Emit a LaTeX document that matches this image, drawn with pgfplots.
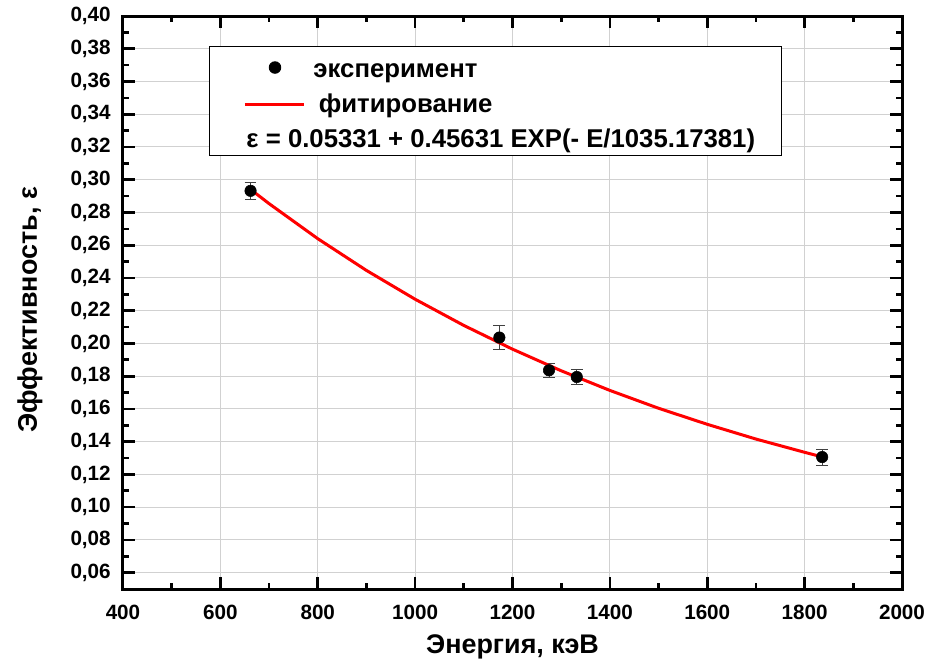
\documentclass[border=0pt]{standalone}
\usepackage{pgfplots}
\pgfplotsset{compat=1.18}
\usepackage{fontspec}
\setmainfont{Liberation Sans}
\pgfplotsset{
  marklegend/.style={legend image code/.code={\path (0pt,0pt) (50.25pt,0pt); \draw[mark repeat=2, mark phase=2, ##1] plot coordinates {(6pt,7.5pt) (28.5pt,7.5pt) (50.25pt,7.5pt)};}},
  linelegend/.style={legend image code/.code={\path (0pt,0pt) (50.25pt,0pt); \draw[##1] (6pt,6pt) -- (50.25pt,6pt);}},
}
\begin{document}
\begin{tikzpicture}
\path[use as bounding box] (-92.25pt,-54.75pt) rectangle (615pt,441.75pt);
\begin{axis}[
  at={(0pt,0pt)}, anchor=south west,
  scale only axis, width=584.25pt, height=429.75pt,
  xmin=400, xmax=2000, ymin=0.05, ymax=0.40,
  xtick={400,600,800,1000,1200,1400,1600,1800,2000},
  ytick={0.06,0.08,0.10,0.12,0.14,0.16,0.18,0.20,0.22,0.24,0.26,0.28,0.30,0.32,0.34,0.36,0.38,0.40},
  minor x tick num=1, minor y tick num=1,
  tick align=inside, xtick pos=both, ytick pos=both,
  xticklabel pos=left, yticklabel pos=left,
  major tick length=9pt, minor tick length=4.5pt,
  every tick/.style={black, line width=2pt},
  axis line style={black, line width=2.25pt},
  grid=major, major grid style={draw=black!18, line width=0.75pt},
  /pgf/number format/assume math mode=true,
  tick label style={font=\fontsize{15.5}{18}\selectfont\bfseries, inner sep=0pt},
  xticklabel style={/pgf/number format/1000 sep={}, yshift=-12pt},
  yticklabel style={/pgf/number format/fixed, /pgf/number format/fixed zerofill, /pgf/number format/precision=2, /pgf/number format/use comma, xshift=-9pt},
  xlabel={Энергия, кэВ}, ylabel={Эффективность, ε},
  label style={font=\fontsize{20.2}{24}\selectfont\bfseries, inner sep=0pt},
  xlabel style={at={([yshift=-48pt]axis description cs:0.5,0)}, anchor=base},
  ylabel style={at={([xshift=-64.5pt]axis description cs:0,0.487)}, anchor=base},
  legend cell align=left,
  legend style={
    at={(0.1104,0.9476)}, anchor=north west,
    draw=black, line width=0.75pt, fill=white,
    font=\fontsize{19.3}{23}\selectfont\bfseries,
    inner xsep=19.5pt, inner ysep=6.25pt,
    row sep=8.5pt, column sep=6pt,
    cells={anchor=base west},
    nodes={inner sep=0pt, anchor=base west, text height=17pt, text depth=0pt},
  },
]
\addplot[only marks, mark=*, mark size=4.3pt, black, marklegend,
  error bars/.cd, y dir=both, y explicit,
  error bar style={line width=0.75pt, black!75},
  error mark options={rotate=90, mark size=4.4pt, line width=0.75pt, black!75}]
  table[x=x, y=y, y error=e] {
x y e
662 0.2932 0.0054
1173 0.2036 0.0072
1275 0.1836 0.0043
1332 0.1795 0.0043
1836 0.1306 0.0049
};
\addlegendentry{эксперимент}
\addplot[red, line width=2.25pt, line join=round, linelegend]
  coordinates {(662,0.2941) (700,0.2854) (800,0.2640) (900,0.2446) (1000,0.2270) (1100,0.2110) (1200,0.1965) (1300,0.1833) (1400,0.1713) (1500,0.1604) (1600,0.1506) (1700,0.1416) (1800,0.1335) (1836,0.1307)};
\addlegendentry{\hspace*{4pt}фитирование}
\addlegendimage{empty legend}
\addlegendentry{\hspace*{-50.25pt}ε = 0.05331 + 0.45631 EXP(- E/1035.17381)}
\end{axis}
\end{tikzpicture}
\end{document}
